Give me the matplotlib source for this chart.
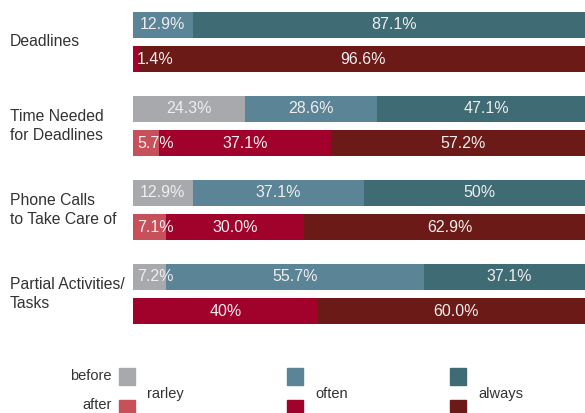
import numpy as np
import matplotlib.pyplot as plt
from matplotlib.patches import Rectangle

plt.rcParams["font.family"] = ["Liberation Sans", "DejaVu Sans"]

categories = ["Deadlines", "Time Needed\nfor Deadlines", "Phone Calls\nto Take Care of", "Partial Activities/\nTasks"]
levels = ["rarley", "often", "always"]

# share per level (rarely, often, always)
before_vals = [[0.0, 12.9, 87.1], [24.3, 28.6, 47.1], [12.9, 37.1, 50.0], [7.2, 55.7, 37.1]]
after_vals = [[0.0, 1.4, 96.6], [5.7, 37.1, 57.2], [7.1, 30.0, 62.9], [0.0, 40.0, 60.0]]
before_labels = [["", "12.9%", "87.1%"], ["24.3%", "28.6%", "47.1%"], ["12.9%", "37.1%", "50%"], ["7.2%", "55.7%", "37.1%"]]
after_labels = [["", "1.4%", "96.6%"], ["5.7%", "37.1%", "57.2%"], ["7.1%", "30.0%", "62.9%"], ["", "40%", "60.0%"]]

before_colors = ["#a8a9ad", "#5b8497", "#3f6b74"]
after_colors = ["#c8505b", "#a0022c", "#6c1a17"]

W, H = 585, 413
fig = plt.figure(figsize=(W / 100, H / 100), dpi=100)
ax = fig.add_axes([133 / W, 1 - 336 / H, 462 / W, 336 / H])

y = np.arange(len(categories))
off = 0.208
h = 0.31

for rows, labs, cols, dy in [(before_vals, before_labels, before_colors, -off),
                             (after_vals, after_labels, after_colors, off)]:
    for i, (vals, lab) in enumerate(zip(rows, labs)):
        left = 0.0
        for j, v in enumerate(vals):
            if v > 0:
                ax.barh(y[i] + dy, v, left=left, height=h, color=cols[j], edgecolor="none")
            if lab[j]:
                # small segments: start the label at the left edge of the segment
                if v < 10:
                    ax.text(left + 0.9, y[i] + dy, lab[j], ha="left", va="center",
                            color="#eeeeee", fontsize=11.5)
                else:
                    ax.text(left + v / 2, y[i] + dy, lab[j], ha="center", va="center",
                            color="#eeeeee", fontsize=11.5)
            left += v

ax.set_xlim(0, 100)
ax.set_ylim(len(categories) - 0.5, -0.5)
ax.axis("off")

for i, c in enumerate(categories):
    fig.text(10 / W, 1 - (42 + 84 * i) / H, c, ha="left", va="center",
             fontsize=11.3, color="#333333", linespacing=1.3)

# legend
fig.text(112 / W, 1 - 376 / H, "before", ha="right", va="center", fontsize=10.5, color="#333333")
fig.text(112 / W, 1 - 405 / H, "after", ha="right", va="center", fontsize=10.5, color="#333333")
for x0, lab, cb, ca in zip([119, 287, 450], levels, before_colors, after_colors):
    fig.patches.append(Rectangle((x0 / W, 1 - 385 / H), 16 / W, 17 / H, transform=fig.transFigure,
                                 color=cb, figure=fig))
    fig.patches.append(Rectangle((x0 / W, 1 - 417 / H), 16 / W, 17 / H, transform=fig.transFigure,
                                 color=ca, figure=fig))
    fig.text((x0 + 28) / W, 1 - 394 / H, lab, ha="left", va="center", fontsize=10.5, color="#333333")

plt.savefig("out.png", dpi=100)
